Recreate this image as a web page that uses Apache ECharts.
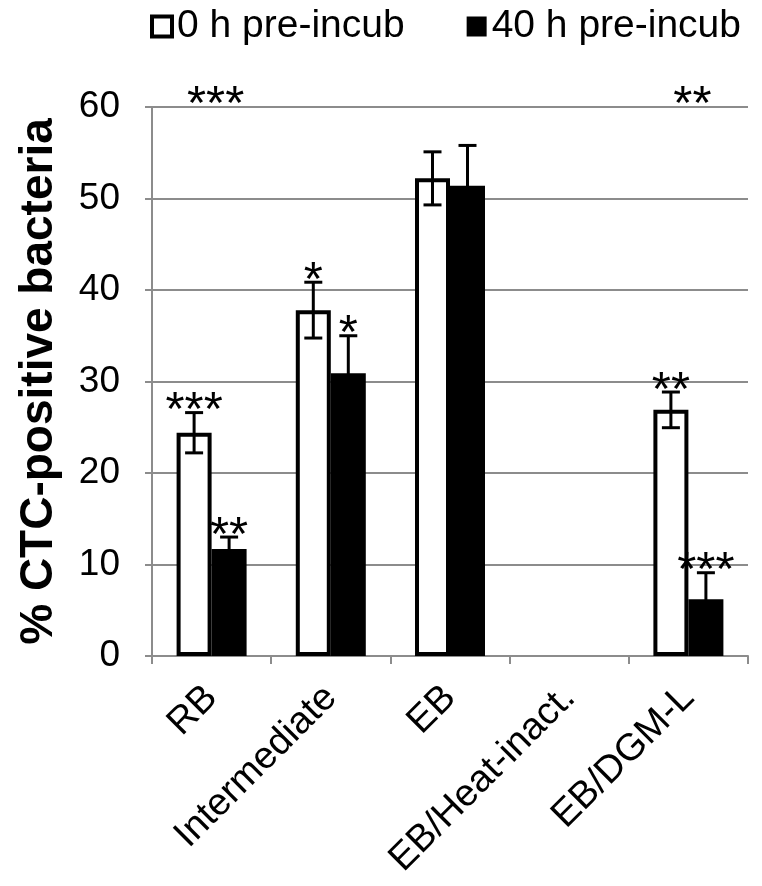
<!DOCTYPE html>
<html>
<head>
<meta charset="utf-8">
<script src="https://cdn.jsdelivr.net/npm/echarts@6/dist/echarts.min.js"></script>
<style>
html,body{margin:0;padding:0;background:#fff;}
#chart{width:762px;height:886px;}
</style>
</head>
<body>
<div id="chart"></div>
<script>
// ---- data ----
var categories = ['RB', 'Intermediate', 'EB', 'EB/Heat-inact.', 'EB/DGM-L'];
var seriesNames = ['0 h pre-incub', '40 h pre-incub'];
var values0h = [24.4, 37.8, 52.2, null, 26.9];
var errors0h = [2.2, 3.05, 2.9, null, 1.95];
var stars0h = ['***', '*', '', '', '**'];
var values40h = [11.7, 30.9, 51.4, null, 6.2];
var errors40h = [1.3, 4.1, 4.4, null, 2.9];
var stars40h = ['**', '*', '', '', '***'];
var topStars = ['***', '', '', '', '**'];
var yTicks = [0, 10, 20, 30, 40, 50, 60];

var GRAY = '#8c8c8c';
var FONT = '"Liberation Sans", Arial, sans-serif';
var BAR_W = 35;
var STAR_FONT = '49px ' + FONT;

var chart = echarts.init(document.getElementById('chart'));

function errData(vals, errs) {
  var out = [];
  for (var i = 0; i < vals.length; i++) {
    if (vals[i] == null) continue;
    out.push([i, vals[i], errs[i]]);
  }
  return out;
}

function makeErrRender(offset, stars) {
  return function (params, api) {
    var idx = api.value(0), v = api.value(1), e = api.value(2);
    var st = stars[idx] || '';
    var top = api.coord([idx, v + e]);
    var bot = api.coord([idx, v - e]);
    var x = top[0] + offset;
    var cap = 9;
    var style = {stroke: '#000', lineWidth: 3};
    return {
      type: 'group',
      children: [
        {type: 'line', shape: {x1: x, y1: top[1], x2: x, y2: bot[1]}, style: style},
        {type: 'line', shape: {x1: x - cap, y1: top[1], x2: x + cap, y2: top[1]}, style: style},
        {type: 'line', shape: {x1: x - cap, y1: bot[1], x2: x + cap, y2: bot[1]}, style: style},
        {type: 'text', x: x, y: top[1] - 1, style: {text: st, font: STAR_FONT, fill: '#000', align: 'center', verticalAlign: 'middle'}}
      ]
    };
  };
}

var topData = [];
for (var i = 0; i < topStars.length; i++) {
  if (topStars[i]) topData.push([i, yTicks[yTicks.length - 1]]);
}

var option = {
  animation: false,
  backgroundColor: '#fff',
  grid: {left: 152, right: 14, top: 107, bottom: 230, containLabel: false},
  legend: {
    left: 145, top: 2,
    itemWidth: 20, itemHeight: 20, itemGap: 62,
    textStyle: {fontFamily: FONT, fontSize: 39, color: '#000'},
    data: [
      {name: seriesNames[0], icon: 'rect', itemStyle: {color: '#fff', borderColor: '#000', borderWidth: 4}},
      {name: seriesNames[1], icon: 'rect', itemStyle: {color: '#000'}}
    ]
  },
  xAxis: {
    type: 'category',
    data: categories,
    axisLine: {lineStyle: {color: GRAY, width: 2}},
    axisTick: {show: true, length: 8, lineStyle: {color: GRAY, width: 2}, alignWithLabel: false},
    axisLabel: {rotate: 45, fontFamily: FONT, fontSize: 38, color: '#000', margin: 36, interval: 0}
  },
  yAxis: {
    type: 'value',
    min: 0, max: 60, interval: 10,
    name: '% CTC-positive bacteria',
    nameLocation: 'middle',
    nameGap: 90,
    nameTextStyle: {fontFamily: FONT, fontSize: 46, fontWeight: 'bold', color: '#000'},
    axisLine: {show: true, lineStyle: {color: GRAY, width: 2}},
    axisTick: {show: true, length: 7, lineStyle: {color: GRAY, width: 2}},
    axisLabel: {fontFamily: FONT, fontSize: 37, color: '#000', margin: 32},
    splitLine: {lineStyle: {color: GRAY, width: 2}}
  },
  series: [
    {
      name: seriesNames[0], type: 'bar', data: values0h,
      barWidth: BAR_W, barGap: '0%',
      itemStyle: {color: '#fff', borderColor: '#000', borderWidth: 4},
      z: 3
    },
    {
      name: seriesNames[1], type: 'bar', data: values40h,
      barWidth: BAR_W, barGap: '0%',
      itemStyle: {color: '#000'},
      z: 3
    },
    {
      type: 'custom', data: errData(values0h, errors0h),
      renderItem: makeErrRender(-BAR_W / 2, stars0h), z: 5, clip: false, silent: true
    },
    {
      type: 'custom', data: errData(values40h, errors40h),
      renderItem: makeErrRender(BAR_W / 2, stars40h), z: 5, clip: false, silent: true
    },
    {
      type: 'custom', data: topData, z: 5, clip: false, silent: true,
      renderItem: function (params, api) {
        var idx = api.value(0);
        var p = api.coord([idx, api.value(1)]);
        return {type: 'text', x: p[0] + 4, y: p[1] - 2,
          style: {text: topStars[idx], font: STAR_FONT, fill: '#000', align: 'center', verticalAlign: 'middle'}};
      }
    }
  ]
};
chart.setOption(option);
</script>
</body>
</html>
